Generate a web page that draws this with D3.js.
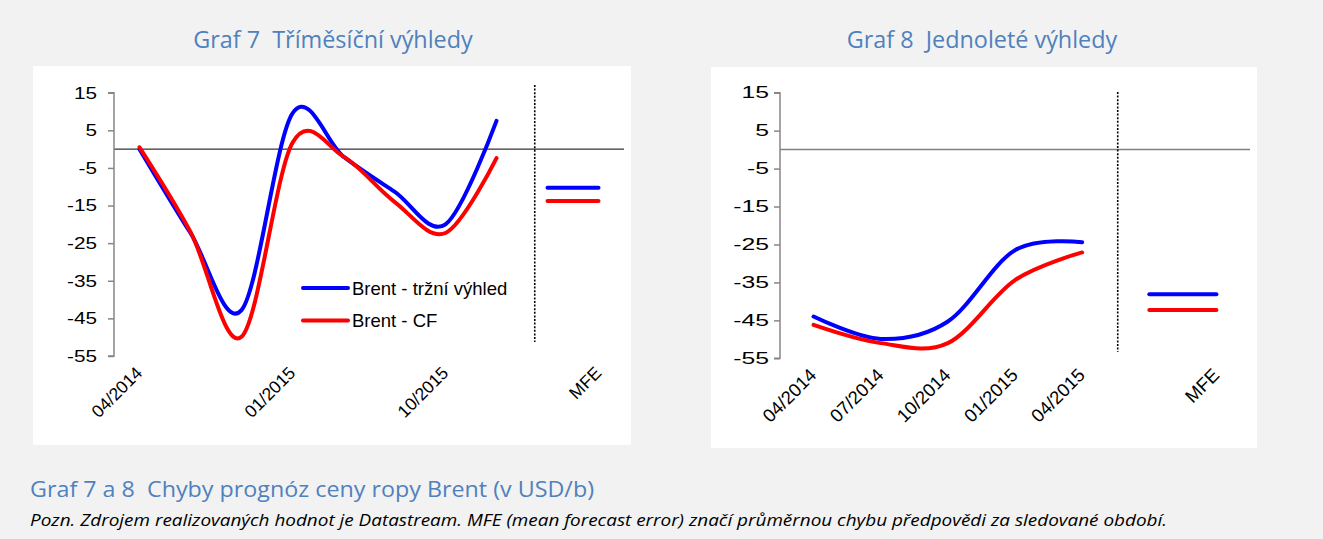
<!DOCTYPE html>
<html>
<head>
<meta charset="utf-8">
<script src="https://cdn.jsdelivr.net/npm/d3@7"></script>
<style>
  html, body { margin: 0; padding: 0; background: #f2f2f2; }
  svg { display: block; }
</style>
</head>
<body>
<svg id="chart" width="1323" height="539"></svg>
<script>
// Graf 7: tříměsíční výhledy (čtvrtletně), chyba prognózy v USD/b
const cats3m = ["04/2014", "07/2014", "10/2014", "01/2015", "04/2015", "07/2015", "10/2015", "01/2016", "", "MFE"];
const shown3m = ["04/2014", "01/2015", "10/2015", "MFE"];
const market3m = [0, -22.3, -42.8, 9.5, -2, -11.3, -20.0, 7.5];
const cf3m = [0.5, -22, -49.9, 1.7, -2, -14, -22.3, -2.4];
const mfe3m = { market: -10.3, cf: -13.8 };

// Graf 8: jednoleté výhledy
const cats12m = ["04/2014", "07/2014", "10/2014", "01/2015", "04/2015", "", "MFE"];
const shown12m = ["04/2014", "07/2014", "10/2014", "01/2015", "04/2015", "MFE"];
const market12m = [-44.0, -49.9, -45.3, -26.5, -24.4];
const cf12m = [-46.2, -51.0, -51.0, -34.4, -27.1];
const mfe12m = { market: -38.1, cf: -42.3 };

const yTicks = [15, 5, -5, -15, -25, -35, -45, -55];
const seriesNames = ["Brent - tržní výhled", "Brent - CF"];
const seriesColors = ["#0000ff", "#ff0000"];

const svg = d3.select("#chart");
const titleColor = "#4f81bd";
const axisFont = "Liberation Sans, Arial, sans-serif";

function drawPanel(cfg) {
  const g = svg.append("g");
  g.append("rect")
    .attr("x", cfg.panel[0]).attr("y", cfg.panel[1])
    .attr("width", cfg.panel[2]).attr("height", cfg.panel[3])
    .attr("fill", "#ffffff");

  const x = d3.scaleBand().domain(d3.range(cfg.cats.length))
    .range([cfg.left, cfg.right]);
  const cx = i => x(i) + x.bandwidth() / 2;
  const y = d3.scaleLinear().domain([-55, 15]).range([cfg.bottom, cfg.top]);

  // nulová linie
  g.append("line")
    .attr("x1", cfg.left).attr("x2", cfg.right)
    .attr("y1", y(0)).attr("y2", y(0))
    .attr("stroke", cfg.zeroColor).attr("stroke-width", cfg.zeroWidth);

  // osa y (popisky s obyčejným spojovníkem jako minus)
  const yAxis = d3.axisLeft(y).tickValues(yTicks).tickSize(6)
    .tickFormat(d => String(d));
  const ya = g.append("g").attr("transform", `translate(${cfg.left},0)`).call(yAxis);
  ya.select(".domain").attr("stroke", "#868686").attr("stroke-width", 1.5)
    .attr("d", `M-6,${y(15)}H0V${y(-55)}H-6`);
  ya.selectAll(".tick line").attr("stroke", "#868686").attr("stroke-width", 1.5);
  ya.selectAll(".tick text")
    .attr("x", -cfg.labelGap / cfg.tickStretch)
    .attr("transform", `scale(${cfg.tickStretch},1)`)
    .style("font-family", axisFont)
    .style("font-size", cfg.tickSize + "px")
    .attr("fill", "#000");

  // popisky kategorií
  cfg.cats.forEach((c, i) => {
    if (!cfg.shown.includes(c) || c === "") return;
    g.append("text")
      .attr("transform", `translate(${cx(i) + 4},${cfg.bottom + 18}) rotate(-45)`)
      .attr("text-anchor", "end")
      .style("font-family", axisFont)
      .style("font-size", cfg.catSize + "px")
      .attr("fill", "#000")
      .text(c);
  });

  // tečkovaná dělicí čára před MFE
  const xd = cfg.left + x.step() * cfg.dividerAt;
  g.append("line")
    .attr("x1", xd).attr("x2", xd)
    .attr("y1", cfg.divY[0]).attr("y2", cfg.divY[1])
    .attr("stroke", "#000").attr("stroke-width", 1.6)
    .attr("stroke-dasharray", "2,1.6");

  const line = d3.line()
    .x((d, i) => cx(i))
    .y(d => y(d))
    .curve(d3.curveCatmullRom.alpha(0));

  [cfg.market, cfg.cf].forEach((vals, k) => {
    g.append("path")
      .datum(vals)
      .attr("d", line)
      .attr("fill", "none")
      .attr("stroke", seriesColors[k])
      .attr("stroke-width", 4)
      .attr("stroke-linecap", "round")
      .attr("stroke-linejoin", "round");
  });

  // MFE úsečky
  const n = cfg.cats.length;
  [cfg.mfe.market, cfg.mfe.cf].forEach((v, k) => {
    g.append("line")
      .attr("x1", cx(n - 2)).attr("x2", cx(n - 1))
      .attr("y1", y(v)).attr("y2", y(v))
      .attr("stroke", seriesColors[k])
      .attr("stroke-width", 4)
      .attr("stroke-linecap", "round");
  });

  // nadpis grafu
  svg.append("text")
    .attr("x", cfg.titleX).attr("y", 48)
    .attr("text-anchor", "middle")
    .style("font-family", "Open Sans, Noto Sans, sans-serif")
    .style("font-size", "23.4px")
    .style("white-space", "pre")
    .attr("fill", titleColor)
    .text(cfg.title);

  return { g, x, y, cx };
}

const p7 = drawPanel({
  panel: [33, 66, 598, 379],
  left: 114, right: 624, top: 92.7, bottom: 356,
  cats: cats3m, shown: shown3m,
  market: market3m, cf: cf3m, mfe: mfe3m,
  zeroColor: "#000", zeroWidth: 1,
  dividerAt: 8.25, divY: [85, 342],
  tickSize: 17, tickStretch: 1.22, labelGap: 17, catSize: 17.5,
  title: "Graf 7  Tříměsíční výhledy", titleX: 333
});

const p8 = drawPanel({
  panel: [711, 67, 546, 381],
  left: 780, right: 1250, top: 92.7, bottom: 358.3,
  cats: cats12m, shown: shown12m,
  market: market12m, cf: cf12m, mfe: mfe12m,
  zeroColor: "#808080", zeroWidth: 1.5,
  dividerAt: 5.03, divY: [92, 352],
  tickSize: 16.5, tickStretch: 1.5, labelGap: 11, catSize: 18.5,
  title: "Graf 8  Jednoleté výhledy", titleX: 982
});

// legenda (Graf 7)
const leg = svg.append("g");
seriesNames.forEach((name, k) => {
  const ly = 288 + k * 32.5;
  leg.append("line")
    .attr("x1", 303).attr("x2", 348).attr("y1", ly).attr("y2", ly)
    .attr("stroke", seriesColors[k]).attr("stroke-width", 4)
    .attr("stroke-linecap", "round");
  leg.append("text")
    .attr("x", 352).attr("y", ly + 6.5)
    .style("font-family", axisFont)
    .style("font-size", "18.5px")
    .attr("fill", "#000")
    .text(name);
});

// společný popis pod grafy
svg.append("text")
  .attr("x", 30).attr("y", 497)
  .style("font-family", "Open Sans, Noto Sans, sans-serif")
  .style("font-size", "21px")
  .style("white-space", "pre")
  .attr("fill", titleColor)
  .attr("textLength", 564).attr("lengthAdjust", "spacingAndGlyphs")
  .text("Graf 7 a 8  Chyby prognóz ceny ropy Brent (v USD/b)");

svg.append("text")
  .attr("x", 30).attr("y", 526)
  .style("font-family", "Open Sans, Noto Sans, sans-serif")
  .style("font-size", "15.5px")
  .style("font-style", "italic")
  .attr("fill", "#000")
  .attr("textLength", 1137).attr("lengthAdjust", "spacingAndGlyphs")
  .text("Pozn. Zdrojem realizovaných hodnot je Datastream. MFE (mean forecast error) značí průměrnou chybu předpovědi za sledované období.");
</script>
</body>
</html>
